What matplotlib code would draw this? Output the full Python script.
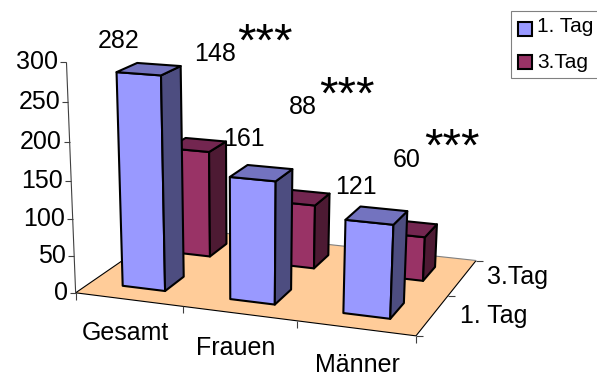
import numpy as np
import matplotlib
matplotlib.use("Agg")
import matplotlib.pyplot as plt
from matplotlib.patches import Polygon, Rectangle

plt.rcParams['font.family'] = ['Liberation Sans', 'DejaVu Sans']

categories = ['Gesamt', 'Frauen', 'Männer']
series = ['1. Tag', '3.Tag']
tag1 = [282, 161, 121]
tag3 = [148, 88, 60]
yticks = [0, 50, 100, 150, 200, 250, 300]

# perspective camera: (category, depth, value, 1) -> pixel
camera = np.array([
    [1.03178394e+02, 5.85142401e+01, -4.18788861e-02, 7.56393452e+01],
    [6.06258921e+00, -1.80969330e+01, -7.78921399e-01, 2.92806962e+02],
    [-2.46783114e-02, 6.44209817e-02, -1.70359899e-04, 1.0],
])

fs = 18
line = '#404040'


def project(x, d, v):
    h = camera @ np.array([x, d, v, 1.0])
    return h[0] / h[2], h[1] / h[2]


def seg(a, b, c='black', lw=0.8):
    ax.plot(*zip(a, b), color=c, lw=lw, zorder=2, solid_capstyle='butt')


def bar(i, j, v, front, side, top):
    x0, x1 = i + 0.3, i + 0.7
    d0, d1 = j + 0.3, j + 0.7
    kw = dict(ec='black', lw=1.5, joinstyle='round', zorder=3)
    ax.add_patch(Polygon([project(x0, d0, 0), project(x1, d0, 0), project(x1, d0, v), project(x0, d0, v)], fc=front, **kw))
    ax.add_patch(Polygon([project(x1, d0, 0), project(x1, d1, 0), project(x1, d1, v), project(x1, d0, v)], fc=side, **kw))
    ax.add_patch(Polygon([project(x0, d0, v), project(x1, d0, v), project(x1, d1, v), project(x0, d1, v)], fc=top, **kw))


fig = plt.figure(figsize=(5.97, 3.76), dpi=100)
ax = fig.add_axes([0, 0, 1, 1])
ax.set_xlim(0, 597)
ax.set_ylim(376, 0)
ax.axis('off')

# floor and axes
ax.add_patch(Polygon([project(0, 0, 0), project(3, 0, 0), project(3, 2, 0), project(0, 2, 0)],
                     fc='#FFCC99', ec='none', zorder=1))
seg(project(0, 0, 0), project(3, 0, 0))
seg(project(3, 0, 0), project(3, 2, 0))
seg(project(0, 0, 0), project(0, 2, 0))
seg(project(3, 2, 0), project(0, 2, 0), '#808080')
seg(project(0, 0, 0), project(0, 0, 300), line)

for v in yticks:
    x, y = project(0, 0, v)
    seg((x - 6, y), (x, y), line)
    ax.text(x - 8, y, str(v), ha='right', va='center', fontsize=fs)
for i in range(4):
    x, y = project(i, 0, 0)
    seg((x, y), (x, y + 7), line)
for j in range(3):
    x, y = project(3, j, 0)
    seg((x, y), (x + 7, y), line)

# back row first so the front row covers it
for i, v in enumerate(tag3):
    bar(i, 1, v, '#993366', '#4D1A33', '#732650')
for i, v in enumerate(tag1):
    bar(i, 0, v, '#9999FF', '#4D4D80', '#7373BF')

for (x, y), t in zip([(125, 333), (236, 348), (357, 365)], categories):
    ax.text(x, y, t, ha='center', va='center', fontsize=fs)
for (x, y), t in zip([(494, 316), (517, 277)], series):
    ax.text(x, y, t, ha='center', va='center', fontsize=fs)
for (x, y), v in zip([(119, 41), (244, 139), (356, 187)], tag1):
    ax.text(x, y, str(v), ha='center', va='center', fontsize=fs)
for (x, y), v in zip([(215, 54), (303, 107), (407, 160)], tag3):
    ax.text(x, y, str(v), ha='center', va='center', fontsize=fs)
for x, y in [(265, 44), (347, 97), (452, 149)]:
    ax.text(x, y, '***', ha='center', va='center', fontsize=34)

# legend box runs off the right edge
ax.add_patch(Rectangle((510.5, 11), 100, 67, fc='white', ec='#808080', lw=0.8, zorder=4))
ax.add_patch(Rectangle((517.5, 21.5), 14, 14, fc='#9999FF', ec='black', lw=1.5, zorder=5))
ax.add_patch(Rectangle((517.5, 54.5), 14, 14, fc='#993366', ec='black', lw=1.5, zorder=5))
ax.text(537, 27, series[0], va='center', fontsize=15, zorder=5)
ax.text(537, 62, series[1], va='center', fontsize=15, zorder=5)

fig.savefig('out.png', dpi=100)
